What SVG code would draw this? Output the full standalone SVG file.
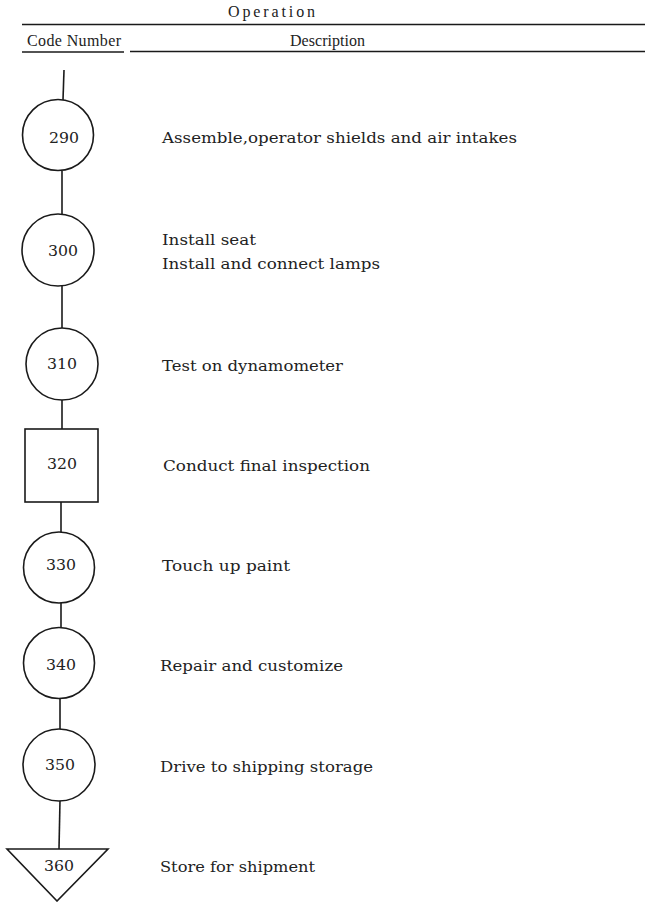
<svg xmlns="http://www.w3.org/2000/svg" width="645" height="902" viewBox="0 0 645 902">
<style>
.shape{fill:#fff;stroke:#1a1a1a;stroke-width:1.6}
.conn line{stroke:#1a1a1a;stroke-width:1.6}
.rule{stroke:#1a1a1a;stroke-width:1.4}
.num{font-family:"DejaVu Serif","Liberation Serif",serif;font-size:15px;fill:#222;text-anchor:middle}
.desc{font-family:"DejaVu Serif","Liberation Serif",serif;font-size:15px;fill:#222}
.hdr{font-family:"Liberation Serif",serif;font-size:16px;fill:#222}
</style>
<rect width="645" height="902" fill="#fff"/>
<g id="header">
<text class="hdr" x="228" y="17" textLength="87" lengthAdjust="spacing">Operation</text>
<line class="rule" x1="22" y1="24.5" x2="645" y2="24.5"/>
<text class="hdr" x="27" y="46" textLength="94" lengthAdjust="spacing">Code Number</text>
<line class="rule" x1="22" y1="52" x2="124" y2="52"/>
<text class="hdr" x="290" y="46" textLength="75" lengthAdjust="spacing">Description</text>
<line class="rule" x1="130" y1="51.5" x2="645" y2="51.5"/>
</g>
<g class="conn" id="connectors">
<line x1="64" y1="70" x2="63" y2="100"/>
<line x1="62" y1="171" x2="62" y2="214"/>
<line x1="62" y1="286" x2="62" y2="328"/>
<line x1="62" y1="400" x2="62" y2="429"/>
<line x1="61" y1="502" x2="61" y2="532"/>
<line x1="61" y1="603" x2="61" y2="628"/>
<line x1="60" y1="698" x2="60" y2="730"/>
<line x1="60" y1="800" x2="59" y2="849"/>
</g>
<g id="n290"><circle class="shape" cx="58" cy="135" r="35.5"/><text class="num" x="64" y="143" textLength="30" lengthAdjust="spacingAndGlyphs">290</text>
<text class="desc" x="162" y="143" textLength="355" lengthAdjust="spacingAndGlyphs">Assemble,operator shields and air intakes</text></g>
<g id="n300"><circle class="shape" cx="58" cy="250" r="36"/><text class="num" x="63" y="256" textLength="30" lengthAdjust="spacingAndGlyphs">300</text>
<text class="desc" x="162" y="245" textLength="94" lengthAdjust="spacingAndGlyphs">Install seat</text>
<text class="desc" x="162" y="269" textLength="218" lengthAdjust="spacingAndGlyphs">Install and connect lamps</text></g>
<g id="n310"><circle class="shape" cx="62" cy="364" r="36"/><text class="num" x="62" y="369" textLength="30" lengthAdjust="spacingAndGlyphs">310</text>
<text class="desc" x="162" y="371" textLength="181" lengthAdjust="spacingAndGlyphs">Test on dynamometer</text></g>
<g id="n320"><rect class="shape" x="25" y="429" width="73" height="73"/><text class="num" x="62" y="469" textLength="30" lengthAdjust="spacingAndGlyphs">320</text>
<text class="desc" x="163" y="471" textLength="207" lengthAdjust="spacingAndGlyphs">Conduct final inspection</text></g>
<g id="n330"><circle class="shape" cx="59" cy="567.5" r="35.5"/><text class="num" x="61" y="570" textLength="30" lengthAdjust="spacingAndGlyphs">330</text>
<text class="desc" x="162" y="571" textLength="128" lengthAdjust="spacingAndGlyphs">Touch up paint</text></g>
<g id="n340"><circle class="shape" cx="59" cy="663" r="35.5"/><text class="num" x="61" y="670" textLength="30" lengthAdjust="spacingAndGlyphs">340</text>
<text class="desc" x="160" y="671" textLength="183" lengthAdjust="spacingAndGlyphs">Repair and customize</text></g>
<g id="n350"><circle class="shape" cx="59" cy="765" r="36"/><text class="num" x="60" y="770" textLength="30" lengthAdjust="spacingAndGlyphs">350</text>
<text class="desc" x="160" y="772" textLength="213" lengthAdjust="spacingAndGlyphs">Drive to shipping storage</text></g>
<g id="n360"><polygon class="shape" points="7,849 108,849 57,901"/><text class="num" x="59" y="871" textLength="30" lengthAdjust="spacingAndGlyphs">360</text>
<text class="desc" x="160" y="872" textLength="155" lengthAdjust="spacingAndGlyphs">Store for shipment</text></g>
</svg>
